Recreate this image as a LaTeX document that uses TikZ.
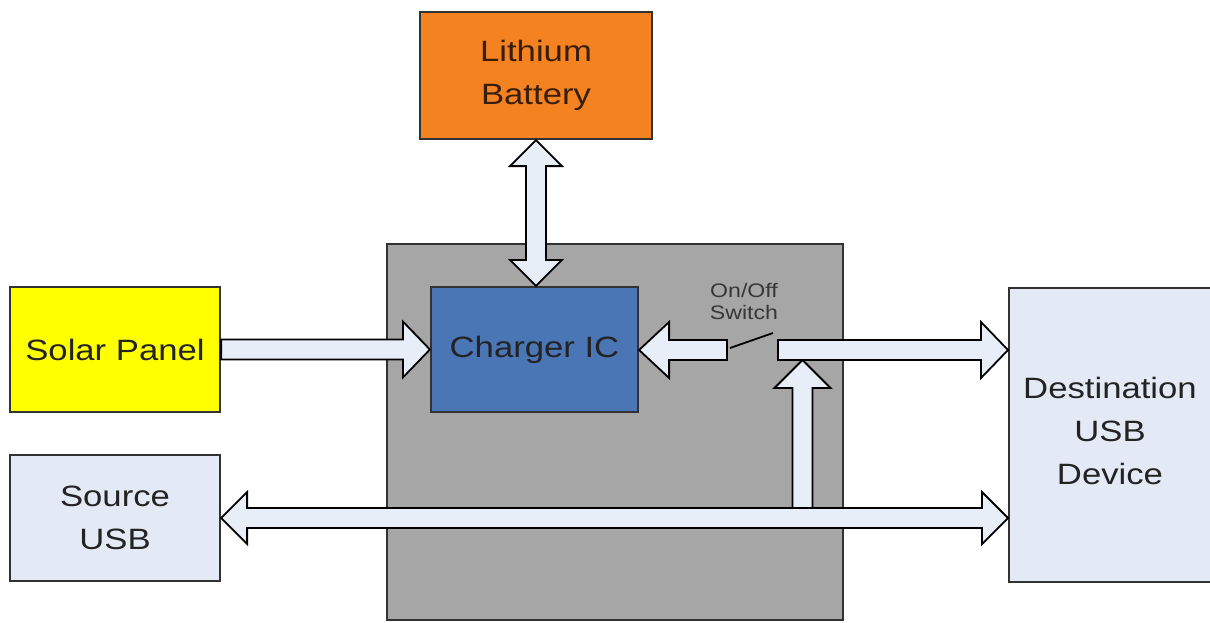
\documentclass[tikz,border=0pt]{standalone}
\usepackage{fontspec}
\setmainfont[FakeStretch=1.18]{Liberation Sans}
\usetikzlibrary{calc}
\definecolor{batt}{RGB}{245,130,32}
\definecolor{boxgray}{RGB}{166,166,166}
\definecolor{chip}{RGB}{74,118,181}
\definecolor{solar}{RGB}{255,255,0}
\definecolor{usb}{RGB}{228,234,245}
\definecolor{arrowfill}{RGB}{232,238,248}
\definecolor{edge}{RGB}{50,50,50}
\definecolor{txt}{RGB}{35,35,35}
\tikzset{
  box/.style={draw=edge, line width=1.1pt, inner sep=0pt, align=center,
    font=\fontsize{14.7}{21.5}\selectfont, text=txt},
  blk/.style={draw=black, line width=0.9pt, fill=arrowfill, line join=miter},
  smalltxt/.style={font=\fontsize{9.8}{11}\selectfont, text={rgb,255:red,55;green,55;blue,55}, align=center, inner sep=0pt}
}
% right-pointing block arrow: start, tip
\newcommand\blkR[2]{\draw[blk] ($(#1)+(0,-10)$) -- ($(#2)+(-27,-10)$) -- ($(#2)+(-27,-28)$) -- (#2) -- ($(#2)+(-27,28)$) -- ($(#2)+(-27,10)$) -- ($(#1)+(0,10)$) -- cycle;}
% left-pointing block arrow: start, tip
\newcommand\blkL[2]{\draw[blk] ($(#1)+(0,-10)$) -- ($(#2)+(30,-10)$) -- ($(#2)+(30,-28)$) -- (#2) -- ($(#2)+(30,28)$) -- ($(#2)+(30,10)$) -- ($(#1)+(0,10)$) -- cycle;}
% upward block arrow: start (bottom), tip (top)
\newcommand\blkU[2]{\draw[blk] ($(#1)+(-10,0)$) -- ($(#2)+(-10,28)$) -- ($(#2)+(-28,28)$) -- (#2) -- ($(#2)+(28,28)$) -- ($(#2)+(10,28)$) -- ($(#1)+(10,0)$) -- cycle;}
% horizontal double arrow: left tip, right tip
\newcommand\blkDH[2]{\draw[blk] (#1) -- ($(#1)+(26,-26)$) -- ($(#1)+(26,-10)$) -- ($(#2)+(-26,-10)$) -- ($(#2)+(-26,-26)$) -- (#2) -- ($(#2)+(-26,26)$) -- ($(#2)+(-26,10)$) -- ($(#1)+(26,10)$) -- ($(#1)+(26,26)$) -- cycle;}
% vertical double arrow: top tip, bottom tip
\newcommand\blkDV[2]{\draw[blk] (#1) -- ($(#1)+(26,26)$) -- ($(#1)+(10,26)$) -- ($(#2)+(10,-26)$) -- ($(#2)+(26,-26)$) -- (#2) -- ($(#2)+(-26,-26)$) -- ($(#2)+(-10,-26)$) -- ($(#1)+(-10,26)$) -- ($(#1)+(-26,26)$) -- cycle;}
\begin{document}
\begin{tikzpicture}[x=0.5pt,y=-0.5pt]
\useasboundingbox[fill=white] (0,0) rectangle (1210,622);
% nodes
\node[box, fill=boxgray, minimum width=228pt, minimum height=188pt] (case) at (615,432) {};
\node[box, fill=batt, minimum width=116pt, minimum height=63.5pt, text={rgb,255:red,55;green,30;blue,10}] (batt) at (536,75.5) {Lithium\\Battery};
\node[box, fill=chip, minimum width=103.5pt, minimum height=62.5pt] (chg) at (534.5,349.5) {Charger IC};
\node[box, fill=solar, minimum width=105pt, minimum height=62.5pt] (sol) at (115,349.5) {Solar Panel};
\node[box, fill=usb, minimum width=105pt, minimum height=63pt] (src) at (115,518) {Source\\USB};
\node[box, fill=usb, minimum width=112pt, minimum height=147pt, anchor=north west] (dst) at (1008,287) {};
\node[box, fill=none, draw=none] (dsttxt) at (1110,431) {Destination\\USB\\Device};
\node[smalltxt] (swtxt) at (744,301) {On/Off\\Switch};
% switch terminals
\coordinate (swL) at (727,350);
\coordinate (swR) at (778,350);
\coordinate (upB) at (802.5,508);
\coordinate (upT) at (802.5,360);
% connectors
\blkDV{batt.south}{batt.south |- chg.north}
\blkR{sol.east}{chg.west |- sol.east}
\blkL{swL}{chg.east |- swL}
\draw[line width=0.9pt, black] (730,348) -- (773,333);
\blkU{upB}{upT}
\blkR{swR}{dst.west |- swR}
\blkDH{src.east}{dst.west |- src.east}
\end{tikzpicture}
\end{document}
